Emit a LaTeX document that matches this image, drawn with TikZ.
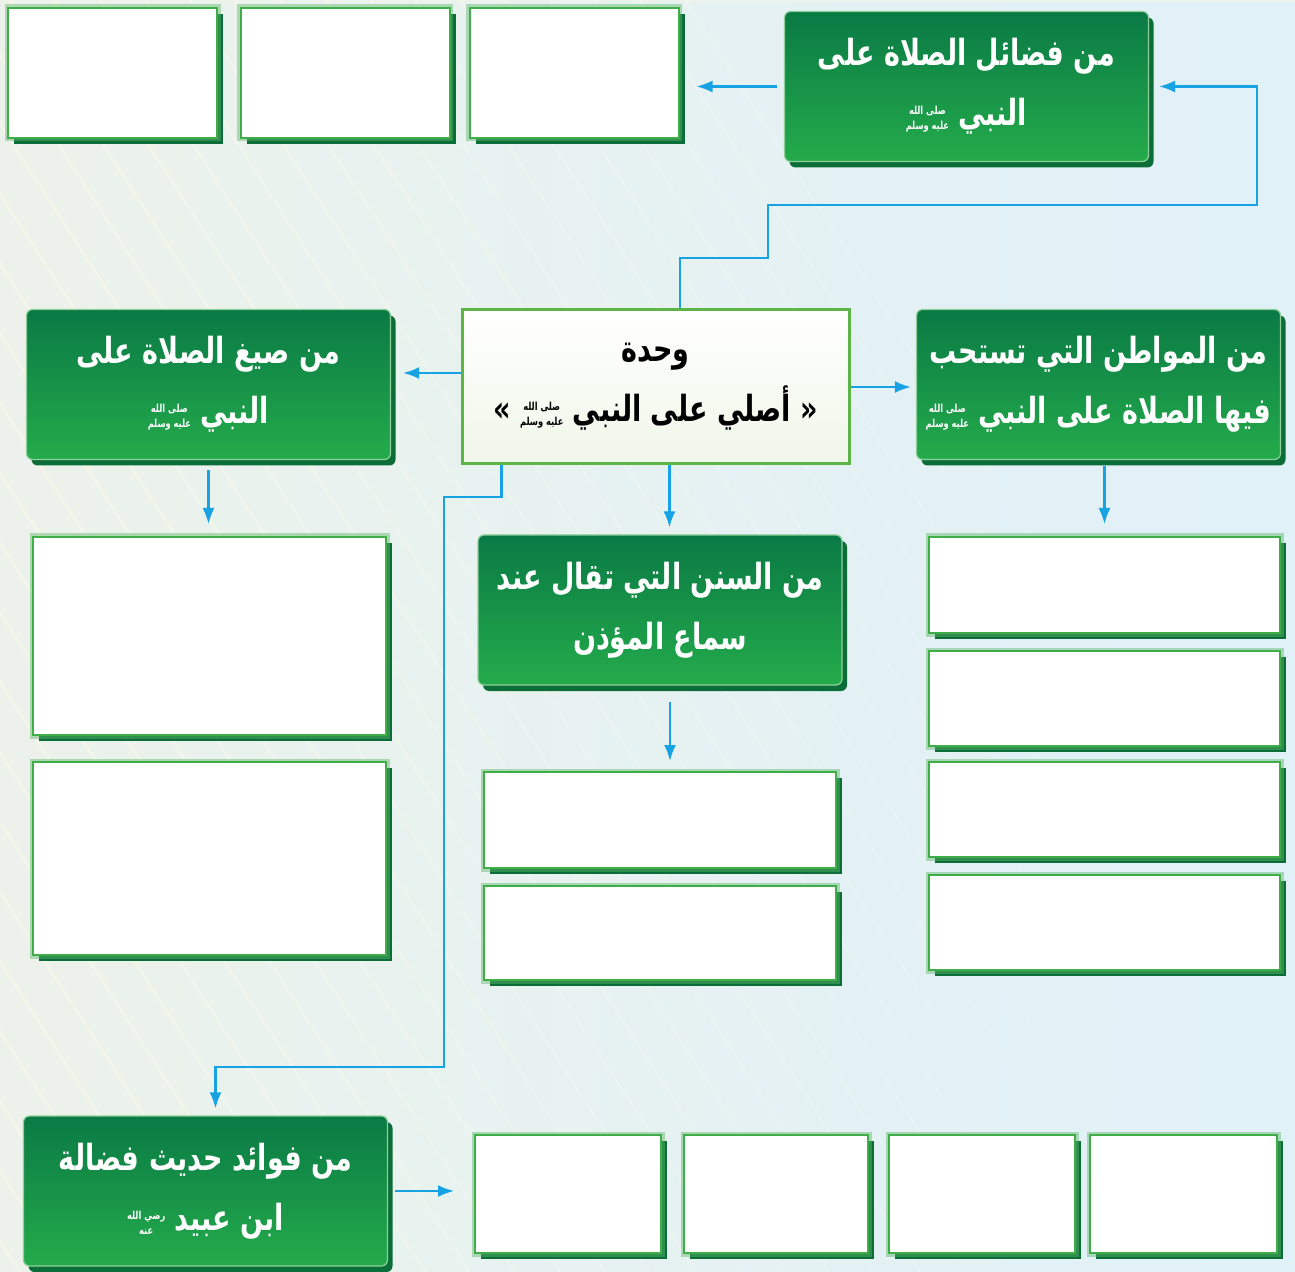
\documentclass[tikz,border=0pt]{standalone}
\usepackage{fontspec}
\newfontfamily\arabicfont[Script=Arabic,FakeStretch=0.75]{DejaVu Sans}
\TeXXeTstate=1
\usetikzlibrary{arrows.meta,shadows,fadings}

\definecolor{gtop}{HTML}{0A7A45}
\definecolor{gbot}{HTML}{24AB4B}
\definecolor{gshadow}{HTML}{0B6E38}
\definecolor{gedge}{HTML}{8FD09A}
\definecolor{wedge}{HTML}{3FAE49}
\definecolor{wglow}{HTML}{5FB86A}
\definecolor{unitedge}{HTML}{5DB548}
\definecolor{unitfill}{HTML}{F0F6E8}
\definecolor{arrowblue}{HTML}{16A2E3}
\definecolor{bgleft}{HTML}{EDF3EB}
\definecolor{bgright}{HTML}{E0F1F9}
\definecolor{stripe}{HTML}{FDFBEA}

\tikzfading[name=fadeleft, left color=transparent!100, middle color=transparent!75, right color=transparent!0]

\newcommand{\tinystack}[2]{\raisebox{2pt}{\fontsize{5.5}{7.5}\selectfont
  \begin{tabular}{@{}c@{}}\beginR #1\endR\\\beginR #2\endR\end{tabular}}}
\newcommand{\saw}{\tinystack{صلى الله}{عليه وسلم}}
\newcommand{\radi}{\tinystack{رضي الله}{عنه}}

\tikzset{
  greenbox/.style={rounded corners=3pt, top color=gtop, bottom color=gbot,
    draw=gedge, line width=0.6pt, inner xsep=3pt,
    drop shadow={shadow xshift=2.5pt, shadow yshift=-3pt, fill=gshadow, opacity=1},
    minimum width=182pt, minimum height=75pt, text=white, align=center,
    font=\arabicfont\bfseries\fontsize{18}{30}\selectfont},
  whitebox/.style={fill=white, draw=wedge, line width=1pt,
    drop shadow={shadow xshift=3pt, shadow yshift=-3pt, fill=gshadow, opacity=1},
    preaction={draw=wglow, line width=3.5pt, opacity=0.45}},
  unitbox/.style={top color=white, bottom color=unitfill, draw=unitedge,
    line width=1.5pt, minimum width=193.5pt, minimum height=77pt, align=center,
    font=\arabicfont\bfseries\fontsize{18}{30}\selectfont},
  conn/.style={arrowblue, line width=1.1pt, -{Latex[length=8pt,width=6pt]}}
}

\begin{document}
\begin{tikzpicture}[x=0.5pt,y=-0.5pt]

  % Background
  \useasboundingbox (0,0) rectangle (1295,1272);
  \fill[bgleft] (0,0) rectangle (1295,1272);
  \foreach \s in {-800,-755,...,700}
    \draw[stripe, line width=1.2pt, opacity=0.6] (\s,0) -- (\s+820,1272);
  \fill[bgright, path fading=fadeleft] (0,0) rectangle (1295,1272);

  % Unit
  \node[unitbox] (unit) at (655.5,387)
    {\beginR وحدة\endR\\\beginR« أصلي على النبي \saw{} »\endR};

  % Headings
  \node[greenbox] (fadail) at (966.5,86.5)
    {\beginR من فضائل الصلاة على\endR\\\beginR النبي \saw\endR};
  \node[greenbox] (siyagh) at (208.5,384.5)
    {\beginR من صيغ الصلاة على\endR\\\beginR النبي \saw\endR};
  \node[greenbox] (mawatin) at (1098.5,384.5)
    {\beginR من المواطن التي تستحب\endR\\\beginR فيها الصلاة على النبي \saw\endR};
  \node[greenbox] (sunan) at (660,610)
    {\beginR من السنن التي تقال عند\endR\\\beginR سماع المؤذن\endR};
  \node[greenbox] (fawaid) at (205.5,1191)
    {\beginR من فوائد حديث فضالة\endR\\\beginR ابن عبيد \radi\endR};

  % Empty answer boxes
  \node[whitebox, minimum width=104.5pt, minimum height=65pt] (tw1) at (112.5,73) {};
  \node[whitebox, minimum width=104.5pt, minimum height=65pt] (tw2) at (345,73) {};
  \node[whitebox, minimum width=104.5pt, minimum height=65pt] (tw3) at (574,73) {};

  \node[whitebox, minimum width=176.5pt, minimum height=99pt] (lw1) at (209.5,636) {};
  \node[whitebox, minimum width=176.5pt, minimum height=96.5pt] (lw2) at (209.5,858.5) {};

  \node[whitebox, minimum width=176pt, minimum height=48pt] (mw1) at (660,820) {};
  \node[whitebox, minimum width=176pt, minimum height=47pt] (mw2) at (660,933) {};

  \node[whitebox, minimum width=175.5pt, minimum height=48pt] (rw1) at (1104.5,585) {};
  \node[whitebox, minimum width=175.5pt, minimum height=47.5pt] (rw2) at (1104.5,698.5) {};
  \node[whitebox, minimum width=175.5pt, minimum height=47.5pt] (rw3) at (1104.5,809.5) {};
  \node[whitebox, minimum width=175.5pt, minimum height=47.5pt] (rw4) at (1104.5,922.5) {};

  \node[whitebox, minimum width=93pt, minimum height=59pt] (bw1) at (568,1194) {};
  \node[whitebox, minimum width=92pt, minimum height=59pt] (bw2) at (776,1194) {};
  \node[whitebox, minimum width=93pt, minimum height=59pt] (bw3) at (982,1194) {};
  \node[whitebox, minimum width=93.5pt, minimum height=59pt] (bw4) at (1183.5,1194) {};

  % Connectors
  \draw[conn, shorten >=5pt] (unit.north -| 680,0) |- (768,258) |- (1257,205) |- (fadail.east);
  \draw[conn, shorten <=3.5pt, shorten >=8.5pt] (fadail.west) -- (fadail.west -| tw3.east);

  \coordinate (ul) at ([yshift=7pt]unit.west);
  \draw[conn, shorten >=6pt] (ul) -- (ul -| siyagh.east);
  \draw[conn, shorten >=2.5pt] (unit.east) -- (unit.east -| mawatin.west);

  \coordinate (us) at ([xshift=7pt]unit.south);
  \draw[conn, shorten >=3.5pt] (us) -- (us |- sunan.north);
  \coordinate (ss) at ([xshift=5pt]sunan.south);
  \draw[conn, shorten <=8pt, shorten >=5pt] (ss) -- (ss |- mw1.north);

  \draw[conn, shorten <=5pt, shorten >=6pt] (siyagh.south) -- (siyagh.south |- lw1.north);
  \draw[conn, shorten <=3pt, shorten >=6pt] (mawatin.south -| rw1.north) -- (rw1.north);

  \coordinate (ub) at ([xshift=-77pt]unit.south);
  \coordinate (fn) at ([xshift=5pt]fawaid.north);
  \draw[conn, shorten >=3.5pt] (ub) |- (444,497) |- (fn |- 0,1067) -- (fn);
  \draw[conn, shorten <=3.5pt, shorten >=10pt] (fawaid.east) -- (fawaid.east -| bw1.west);

\end{tikzpicture}
\end{document}
